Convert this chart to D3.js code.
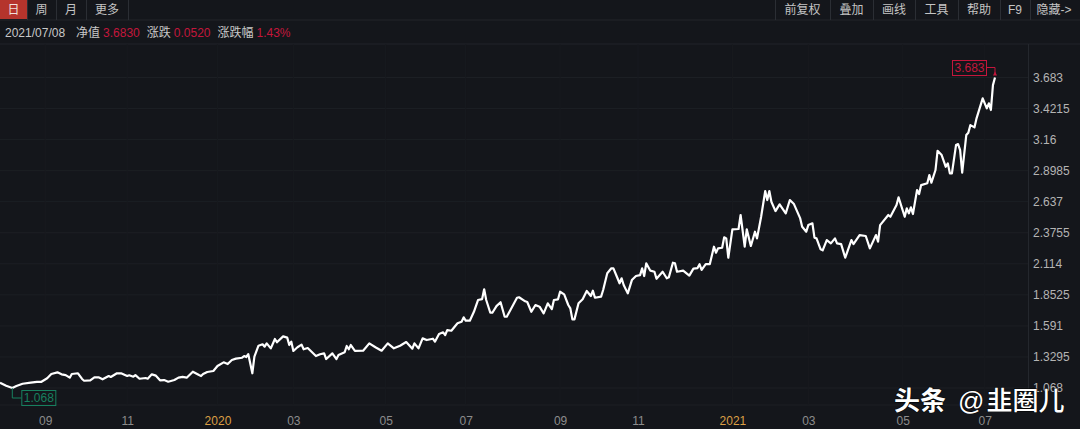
<!DOCTYPE html>
<html lang="zh-CN">
<head>
  <meta charset="utf-8">
  <script src="https://d3js.org/d3.v7.min.js"></script>
  <style>
    html, body { margin: 0; padding: 0; background: #14161b; overflow: hidden; }
    svg { display: block; font-family: "Liberation Sans", "Noto Sans CJK SC", sans-serif; }
    .domain { display: none; }
  </style>
</head>
<body>
<script>

// trading day number (counted from the left edge) and net value
var tradingDays = [0,3,6,8,11,15,18,20,23,25,28,30,32,34,35,38,40,41,44,46,48,50,53,54,57,59,62,63,65,66,68,71,72,74,76,78,80,82,85,87,89,91,94,97,
  98,99,101,104,106,109,111,113,115,118,119,120,121,123,124,126,128,129,130,132,134,135,138,140,141,142,143,145,147,148,150,154,156,158,159,162,164,165,168,169,170,171,173,177,180,183,186,189,192,195,
  198,201,202,204,206,208,211,212,214,216,217,218,220,223,225,226,227,229,231,233,235,236,237,239,240,242,244,246,247,249,252,253,256,257,259,261,263,265,267,269,270,272,273,275,277,278,279,280,282,284,286,288,289,290,293,
  294,296,298,299,301,302,303,304,306,308,310,312,313,314,315,317,319,320,323,325,326,328,329,330,333,336,338,340,341,342,344,346,348,349,350,352,353,354,355,357,360,361,363,364,366,368,369,371,373,374,375,376,378,380,383,385,387,390,
  391,393,394,396,397,398,400,401,403,405,407,408,410,412,415,416,419,422,424,427,428,429,433,434,437,438,441,442,443,444,445,447,448,449,452,453,454,456,457,459,461,462,463,464,466,467,468,469,471,472,473,475,476,479,481,482,483,484,485];

var navValues = [1.113,1.087,1.068,1.085,1.104,1.113,1.119,1.119,1.150,1.186,1.200,1.183,1.177,1.155,1.186,1.192,1.144,1.129,1.133,1.158,1.158,1.141,1.169,1.161,1.192,1.192,1.169,1.175,1.163,1.177,1.146,1.152,1.146,1.183,1.172,1.133,1.135,1.121,1.135,1.155,1.161,1.155,1.205,1.177,
  1.169,1.186,1.203,1.211,1.253,1.284,1.270,1.304,1.315,1.323,1.337,1.329,1.354,1.192,1.332,1.424,1.436,1.416,1.444,1.402,1.481,1.453,1.503,1.492,1.430,1.458,1.380,1.411,1.433,1.394,1.405,1.337,1.352,1.360,1.312,1.360,1.312,1.346,1.369,1.422,1.394,1.430,1.380,1.382,1.444,1.411,1.382,1.444,1.402,1.424,
  1.455,1.399,1.444,1.402,1.486,1.472,1.483,1.458,1.523,1.537,1.514,1.556,1.550,1.613,1.626,1.663,1.635,1.635,1.710,1.809,1.817,1.899,1.809,1.702,1.702,1.758,1.790,1.668,1.668,1.731,1.828,1.832,1.798,1.792,1.710,1.767,1.753,1.697,1.781,1.733,1.809,1.815,1.879,1.857,1.767,1.739,1.646,1.646,1.781,1.815,1.885,1.843,1.887,1.828,1.837,
  1.893,2.034,2.076,2.076,1.992,1.950,1.992,1.935,1.865,1.977,2.011,2.019,2.076,2.011,2.118,2.056,2.047,1.988,2.047,1.992,2.000,2.123,2.118,2.047,2.056,2.014,2.073,2.078,2.110,2.062,2.112,2.112,2.258,2.207,2.244,2.249,2.337,2.328,2.165,2.404,2.407,2.525,2.258,2.404,2.264,2.384,2.328,2.510,2.727,2.651,2.727,2.637,2.558,2.615,2.539,2.651,2.617,2.499,
  2.426,2.384,2.440,2.455,2.334,2.328,2.236,2.227,2.314,2.286,2.328,2.286,2.280,2.165,2.314,2.280,2.356,2.348,2.244,2.356,2.300,2.440,2.525,2.510,2.609,2.674,2.510,2.581,2.539,2.589,2.533,2.735,2.701,2.777,2.792,2.861,2.797,2.904,3.066,3.030,2.931,2.960,2.876,2.876,3.114,3.122,3.072,2.881,3.198,3.218,3.282,3.263,3.339,3.507,3.423,3.465,3.409,3.619,3.683];

var yTicks = [1.068,1.3295,1.591,1.8525,2.114,2.3755,2.637,2.8985,3.16,3.4215,3.683];
var yTickLabels = ["1.068","1.3295","1.591","1.8525","2.114","2.3755","2.637","2.8985","3.16","3.4215","3.683"];

var xTickDays = [22,62,106,143,188,227,273,311,357,394,440,480];
var xTickLabels = ["09","11","2020","03","05","07","09","11","2021","03","05","07"];

var leftTabs = ["日","周","月","更多"];
var rightTabs = ["前复权","叠加","画线","工具","帮助","F9","隐藏->"];

var width = 1080,
    height = 429;

var x = d3.scaleLinear().domain([0, 485]).range([0, 995]);
var y = d3.scaleLinear().domain([1.068, 3.683]).range([388, 77.5]);

var svg = d3.select("body").append("svg")
    .attr("width", width)
    .attr("height", height);

svg.append("rect")
    .attr("width", width)
    .attr("height", height)
    .attr("fill", "#14161b");

// toolbar
var leftEdges = [0, 27, 56, 86, 128];
var rightEdges = [775, 830, 873, 915, 958, 1000, 1030, 1080];

svg.append("rect")
    .attr("width", 27)
    .attr("height", 19)
    .attr("fill", "#b5342c");

svg.append("line")
    .attr("x1", 0).attr("x2", width)
    .attr("y1", 20).attr("y2", 20)
    .attr("stroke", "#22252b");

svg.selectAll(".sep")
    .data(leftEdges.slice(1).concat(rightEdges.slice(0, 7)))
  .enter().append("line")
    .attr("class", "sep")
    .attr("x1", function(d) { return d + 0.5; })
    .attr("x2", function(d) { return d + 0.5; })
    .attr("y1", 0).attr("y2", 20)
    .attr("stroke", "#2b2e34");

svg.selectAll(".ltab")
    .data(leftTabs)
  .enter().append("text")
    .attr("class", "ltab")
    .attr("x", function(d, i) { return (leftEdges[i] + leftEdges[i + 1]) / 2; })
    .attr("y", 14)
    .attr("text-anchor", "middle")
    .attr("font-size", 12)
    .attr("fill", function(d, i) { return i == 0 ? "#f0e0dc" : "#c4c4c4"; })
    .text(function(d) { return d; });

svg.selectAll(".rtab")
    .data(rightTabs)
  .enter().append("text")
    .attr("class", "rtab")
    .attr("x", function(d, i) { return (rightEdges[i] + rightEdges[i + 1]) / 2 + (i == 6 ? -1 : 0); })
    .attr("y", 14)
    .attr("text-anchor", "middle")
    .attr("font-size", 12)
    .attr("fill", "#c4c4c4")
    .text(function(d) { return d; });

// info row
var infoRow = svg.append("text")
    .attr("x", 5)
    .attr("y", 37)
    .attr("font-size", 12)
    .attr("fill", "#c8c8c8");

infoRow.append("tspan").text("2021/07/08");
infoRow.append("tspan").attr("dx", 11).text("净值");
infoRow.append("tspan").attr("dx", 3).attr("fill", "#c4163c").text("3.6830");
infoRow.append("tspan").attr("dx", 7).text("涨跌");
infoRow.append("tspan").attr("dx", 3).attr("fill", "#c4163c").text("0.0520");
infoRow.append("tspan").attr("dx", 7).text("涨跌幅");
infoRow.append("tspan").attr("dx", 3).attr("fill", "#c4163c").text("1.43%");

// frame and grid
svg.append("line")
    .attr("x1", 0).attr("x2", width)
    .attr("y1", 44).attr("y2", 44)
    .attr("stroke", "#20232a");

svg.append("line")
    .attr("x1", 1028.5).attr("x2", 1028.5)
    .attr("y1", 44).attr("y2", 408)
    .attr("stroke", "#24272d");

svg.selectAll(".hgrid")
    .data(yTicks)
  .enter().append("line")
    .attr("class", "hgrid")
    .attr("x1", 0).attr("x2", 1028)
    .attr("y1", function(d) { return y(d); })
    .attr("y2", function(d) { return y(d); })
    .attr("stroke", "#1c1f24");

svg.append("line")
    .attr("x1", 0).attr("x2", 1028)
    .attr("y1", 405).attr("y2", 405)
    .attr("stroke", "#1c1f24");

svg.selectAll(".vgrid")
    .data(xTickDays)
  .enter().append("line")
    .attr("class", "vgrid")
    .attr("x1", function(d) { return x(d); })
    .attr("x2", function(d) { return x(d); })
    .attr("y1", 44).attr("y2", 405)
    .attr("stroke", "#181a1f");

// axes
var yAxis = d3.axisRight(y)
    .tickValues(yTicks)
    .tickSize(0)
    .tickPadding(0)
    .tickFormat(function(d, i) { return yTickLabels[i]; });

var yAxisG = svg.append("g")
    .attr("transform", "translate(1033,0)")
    .call(yAxis);

yAxisG.selectAll("text")
    .attr("font-family", "Liberation Sans")
    .attr("font-size", 12)
    .attr("fill", "#b4b4b4");

var xAxis = d3.axisBottom(x)
    .tickValues(xTickDays)
    .tickSize(0)
    .tickPadding(0)
    .tickFormat(function(d, i) { return xTickLabels[i]; });

var xAxisG = svg.append("g")
    .attr("transform", "translate(0,416)")
    .call(xAxis);

xAxisG.selectAll("text")
    .attr("font-family", "Liberation Sans")
    .attr("font-size", 12)
    .attr("fill", function(d, i) { return xTickLabels[i].length == 4 ? "#dc9f45" : "#8c8c8c"; });

// net value line
var line = d3.line()
    .x(function(d, i) { return x(tradingDays[i]); })
    .y(function(d) { return y(d); });

svg.append("path")
    .datum(navValues)
    .attr("d", line)
    .attr("fill", "none")
    .attr("stroke", "#ffffff")
    .attr("stroke-width", 2.2)
    .attr("stroke-linejoin", "round");

// max and min flags
function flag(day, value, bx, by, color, connector) {
  svg.append("path")
      .attr("d", connector)
      .attr("fill", "none")
      .attr("stroke", color);
  svg.append("rect")
      .attr("x", bx + 0.5).attr("y", by + 0.5)
      .attr("width", 34).attr("height", 15)
      .attr("fill", "none")
      .attr("stroke", color);
  svg.append("text")
      .attr("x", bx + 17.5).attr("y", by + 12)
      .attr("text-anchor", "middle")
      .attr("font-size", 12)
      .attr("fill", color)
      .text(value);
}

var maxI = navValues.indexOf(d3.max(navValues)),
    minI = navValues.indexOf(d3.min(navValues));

var mx = x(tradingDays[maxI]), my = y(navValues[maxI]),
    nx = x(tradingDays[minI]), ny = y(navValues[minI]);

flag(tradingDays[maxI], "3.683", mx - 43, my - 17.5, "#c4163c",
    "M" + (mx - 8) + "," + (my - 10) + "H" + mx + "V" + (my - 3));
flag(tradingDays[minI], "1.068", nx + 9, ny + 2, "#17805f",
    "M" + nx + "," + ny + "V" + (ny + 10) + "H" + (nx + 9));

svg.append("path")
    .attr("d", "M" + (mx - 2) + "," + (my - 2) + "h4l-2,-4z")
    .attr("fill", "#c4163c");

// watermark
var mark = svg.append("text")
    .attr("x", 894)
    .attr("y", 410)
    .attr("font-family", "Noto Sans CJK SC")
    .attr("font-size", 26)
    .attr("font-weight", 500)
    .attr("fill", "#ffffff")
    .attr("stroke", "#000000")
    .attr("stroke-width", 1)
    .attr("paint-order", "stroke");

mark.append("tspan").attr("font-weight", 700).text("头条");
mark.append("tspan").attr("dx", 12).attr("font-family", "Liberation Sans").text("@");
mark.append("tspan").attr("dx", 2).text("韭圈儿");

</script>
</body>
</html>
